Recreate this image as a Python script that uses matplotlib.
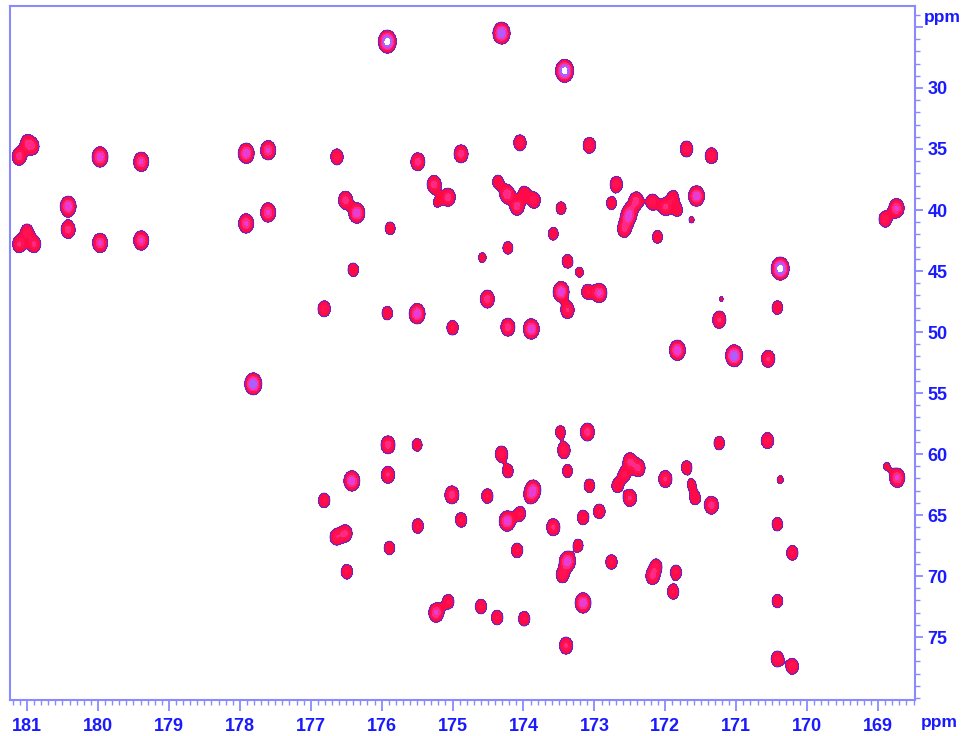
import numpy as np
import matplotlib
matplotlib.use("Agg")
import matplotlib.pyplot as plt
from matplotlib.ticker import MultipleLocator, FixedLocator

plt.rcParams['font.family'] = ['Liberation Sans', 'DejaVu Sans']

# 13C-13C correlation peaks: direct dim (ppm), indirect dim (ppm), relative intensity
peak_f2 = [175.92, 174.31, 173.42,
           181.11, 181.00, 180.92, 179.97, 179.39, 177.91, 177.60,
           180.42, 180.42, 181.11, 181.00, 180.90, 179.97, 179.39, 177.91, 177.60, 177.81,
           176.63, 175.49, 174.88, 174.05, 173.07, 172.69, 176.51, 176.35, 175.88, 175.26,
           175.06, 175.22, 174.36, 174.23, 174.09, 173.99, 173.85, 173.47, 172.76, 173.58,
           174.22, 174.58, 173.38, 173.21, 176.40, 173.47, 173.10, 172.93, 174.51, 176.81,
           175.92, 175.50, 175.00, 174.22, 173.89, 173.38,
           171.70, 171.35, 171.56, 172.41, 172.18, 172.00, 171.89, 171.83, 171.63, 172.50,
           172.53, 172.58, 172.11, 168.74, 168.90, 170.38, 171.21, 170.42, 171.24, 171.83,
           171.03, 170.55,
           175.91, 175.50, 176.42, 175.91, 176.81, 175.01, 174.51, 174.88, 175.49, 176.51,
           176.64, 175.89, 176.49, 175.06, 175.23, 174.60, 174.37,
           173.48, 173.10, 173.43, 174.31, 174.22, 173.38, 172.50, 172.38, 172.58, 171.70,
           172.00, 171.63, 171.58, 173.86, 173.90, 173.07, 172.68, 172.50, 174.23, 174.05,
           173.58, 173.16, 172.93, 173.23, 174.09, 173.38, 173.45, 172.76, 172.13, 172.18,
           171.85, 171.89, 173.99, 173.16, 173.40,
           171.24, 170.56, 171.35, 170.38, 170.42, 170.21, 170.42, 170.42, 170.21, 168.88,
           168.73]
peak_f1 = [26.2, 25.5, 28.6,
           35.6, 34.5, 34.8, 35.65, 36.05, 35.35, 35.1,
           39.7, 41.6, 42.8, 41.8, 42.8, 42.7, 42.5, 41.1, 40.2, 54.25,
           35.65, 36.05, 35.4, 34.5, 34.7, 37.9, 39.2, 40.25, 41.5, 37.9,
           38.95, 39.4, 37.7, 38.7, 39.7, 38.6, 39.2, 39.85, 39.45, 41.95,
           43.1, 43.9, 44.2, 45.1, 44.9, 46.7, 46.7, 46.8, 47.3, 48.1,
           48.45, 48.5, 49.65, 49.6, 49.75, 48.2,
           35.0, 35.55, 38.85, 39.25, 39.35, 39.75, 38.95, 40.0, 40.8, 40.15,
           40.7, 41.55, 42.2, 39.85, 40.75, 44.8, 47.3, 48.0, 49.0, 51.5,
           51.95, 52.2,
           59.25, 59.25, 62.2, 61.7, 63.8, 63.35, 63.45, 65.4, 65.9, 66.5,
           66.8, 67.7, 69.65, 72.1, 73.0, 72.5, 73.4,
           58.2, 58.2, 59.7, 60.0, 61.4, 61.4, 60.6, 61.15, 61.7, 61.1,
           62.05, 62.5, 63.6, 62.9, 63.4, 62.6, 62.6, 63.6, 65.5, 64.9,
           66.0, 65.2, 64.7, 67.5, 67.9, 68.8, 69.9, 68.85, 69.2, 70.0,
           69.7, 71.3, 73.5, 72.2, 75.7,
           59.1, 58.9, 64.2, 62.1, 65.75, 68.1, 72.05, 76.8, 77.4, 61.0,
           61.95]
peak_int = [10, 8, 10,
            4, 3, 3, 6, 5, 6, 5,
            6, 4, 3.5, 3, 3.5, 5, 5, 5, 5, 8,
            3, 4, 4, 3, 3, 3, 4, 6, 2, 4,
            4, 1.4, 2.2, 4.5, 4, 2.2, 3, 2, 2, 2,
            2, 1.5, 2.2, 1.5, 2.2, 6, 2.5, 5, 4, 3,
            2.2, 6, 2.5, 4, 6, 3.5,
            3, 3, 6, 4, 3, 3.5, 2.2, 2, 1.2, 3.5,
            3.5, 3.5, 2, 5, 3, 10, 1.1, 2.2, 3.5, 6,
            8, 3.5,
            4, 2, 6, 3.5, 2.5, 4, 2.5, 2.5, 2.5, 3.5,
            3, 2.2, 2.5, 2.5, 5, 2.5, 2.5,
            2, 4, 3, 3, 2.2, 2, 3.5, 3.5, 2.5, 2.2,
            3.5, 1.6, 2.2, 4.5, 3, 2.2, 2.2, 3.5, 6, 2.5,
            3.5, 2.5, 2.5, 2, 2.5, 6, 3, 2.5, 2.5, 3.5,
            2.5, 2.5, 2.5, 6, 3.5,
            2.2, 3, 4, 1.3, 2.2, 2.5, 2.2, 3, 3, 1.3,
            5]

x_lim = (181.24, 168.48)
y_lim = (80.16, 23.28)
sig_x = 0.059
sig_y = 0.44

x = np.linspace(x_lim[1], x_lim[0], 1200)
y = np.linspace(y_lim[1], y_lim[0], 1000)
px = np.array(peak_f2)
py = np.array(peak_f1)
amp = np.array(peak_int)
gx = np.exp(-0.5 * ((x[None, :] - px[:, None]) / sig_x) ** 2)
gy = np.exp(-0.5 * ((y[None, :] - py[:, None]) / sig_y) ** 2)
Z = (gy * amp[:, None]).T @ gx

blue = '#1a1aff'
axis_col = '#8a8aff'

fig = plt.figure(figsize=(9.61, 7.36), dpi=100)
ax = fig.add_axes([10 / 961, 36 / 736, 905 / 961, 694 / 736])

levels = [1.0, 1.6, 2.4, 3.3, 4.6, 6.3, 8.5, 100]
colors = ['#ff0a3c', '#ff0a48', '#ff1252', '#ff2a86', '#e83cd8', '#a860ff', '#ffffff']
ax.contourf(x, y, Z, levels=levels, colors=colors)
ax.contour(x, y, Z, levels=[1.0], colors=['#3030ff'], linewidths=0.6)

ax.set_xlim(*x_lim)
ax.set_ylim(*y_lim)

for s in ax.spines.values():
    s.set_color(axis_col)
    s.set_linewidth(1.5)

ax.yaxis.tick_right()
ax.xaxis.set_major_locator(MultipleLocator(1))
ax.xaxis.set_minor_locator(MultipleLocator(0.1))
ax.yaxis.set_major_locator(FixedLocator([25, 30, 35, 40, 45, 50, 55, 60, 65, 70, 75]))
ax.yaxis.set_minor_locator(MultipleLocator(1))
ax.set_yticklabels(['', '30', '35', '40', '45', '50', '55', '60', '65', '70', '75'])

ax.tick_params(axis='x', which='major', length=8, width=1.3, color=axis_col,
               labelcolor=blue, labelsize=13, pad=5)
ax.tick_params(axis='x', which='minor', length=3.5, width=1.0, color=axis_col)
ax.tick_params(axis='y', which='major', length=6, width=1.3, color=axis_col,
               labelcolor=blue, labelsize=13, pad=3)
ax.tick_params(axis='y', which='minor', length=3.5, width=1.0, color=axis_col)
for lab in ax.get_xticklabels() + ax.get_yticklabels():
    lab.set_fontweight('bold')

ax.text(1.03, 0.984, 'ppm', transform=ax.transAxes, color=blue, fontsize=12.5,
        fontweight='bold', ha='center', va='center')
ax.text(1.027, -0.032, 'ppm', transform=ax.transAxes, color=blue, fontsize=12.5,
        fontweight='bold', ha='center', va='center')

fig.savefig('out.png', dpi=100, facecolor='white')
